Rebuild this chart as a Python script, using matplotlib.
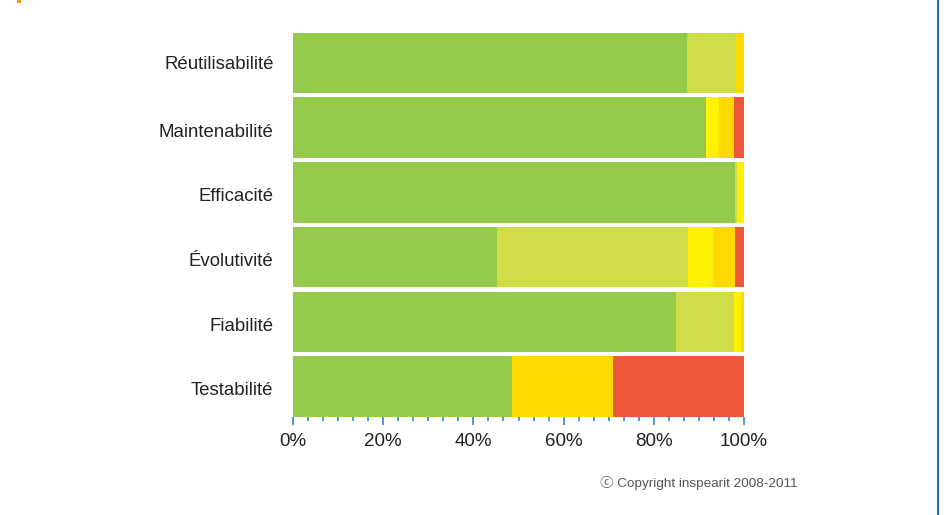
import numpy as np
import matplotlib
matplotlib.use('Agg')
import matplotlib.pyplot as plt
import matplotlib.transforms as mtransforms
from matplotlib.ticker import MultipleLocator, FuncFormatter

categories = ['Réutilisabilité', 'Maintenabilité', 'Efficacité', 'Évolutivité', 'Fiabilité', 'Testabilité']

# share of each level (%), best to worst
level1 = [87.4, 91.6, 98.0, 45.2, 85.0, 48.6]
level2 = [10.9, 0.0, 0.4, 42.4, 12.7, 0.0]
level3 = [0.0, 2.9, 1.6, 5.5, 1.6, 0.0]
level4 = [1.7, 3.3, 0.0, 4.9, 0.7, 22.4]
level5 = [0.0, 2.2, 0.0, 2.0, 0.0, 29.0]

colors = ['#95c94a', '#cfdc48', '#fff000', '#ffd800', '#ef573a']

plt.rcParams['font.family'] = ['Liberation Sans', 'Noto Sans CJK SC', 'DejaVu Sans']

fig = plt.figure(figsize=(9.46, 5.15), dpi=100)
ax = fig.add_axes([293/946, (515 - 416.7)/515, 451/946, 384/515])

bar_h = 0.935
y = np.arange(len(categories))
left = np.zeros(len(categories))
for vals, c in zip([level1, level2, level3, level4, level5], colors):
	ax.barh(y, vals, left=left, height=bar_h, color=c, linewidth=0)
	left = left + np.array(vals)

ax.set_xlim(0, 100)
ax.set_ylim(len(categories) - 1 + bar_h/2, -bar_h/2)
ax.set_yticks(y)
ax.set_yticklabels(categories, fontsize=13.4, color='#222222')
ax.tick_params(axis='y', length=0, pad=14)
shift = mtransforms.ScaledTranslation(0, -2.5/100, fig.dpi_scale_trans)
for lab in ax.get_yticklabels()[1:]:
	lab.set_transform(lab.get_transform() + shift)

ax.xaxis.set_major_locator(MultipleLocator(20))
ax.xaxis.set_minor_locator(MultipleLocator(100/30))
ax.xaxis.set_major_formatter(FuncFormatter(lambda v, p: f'{v:.0f}%'))
ax.tick_params(axis='x', which='major', length=6, width=1.2, color='#2f86d6', labelsize=13.5, labelcolor='#222222', pad=6)
ax.tick_params(axis='x', which='minor', length=3, width=1.2, color='#2f86d6')

for s in ax.spines.values():
	s.set_visible(False)

fig.text(600/946, 1 - 483/515, 'ⓒ Copyright inspearit 2008-2011', fontsize=9.7, color='#555555',
	va='center', ha='left')

# blue frame line on the right and a bit of the orange header at top left
fig.add_artist(plt.Line2D([938/946, 938/946], [0.0, 1.0], color='#1a6fd0', linewidth=1.5))
fig.add_artist(plt.Rectangle((17/946, 1 - 3/515), 4/946, 3/515, color='#f7941d', linewidth=0))

plt.savefig('out.png', dpi=100)
